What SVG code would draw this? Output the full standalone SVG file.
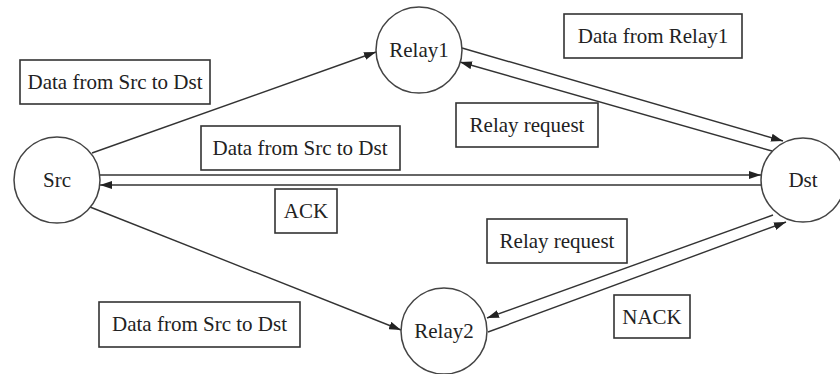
<svg xmlns="http://www.w3.org/2000/svg" width="840" height="374" viewBox="0 0 840 374">
  <style>
    .node circle { fill: #ffffff; stroke: #444444; stroke-width: 1.5; }
    .label rect { fill: #ffffff; stroke: #333333; stroke-width: 1.6; }
    text { font-family: 'Liberation Serif', 'Times New Roman', 'DejaVu Serif', serif; font-size: 21px; fill: #222222; text-anchor: middle; }
    .edge { stroke: #333333; stroke-width: 1.4; fill: none; marker-end: url(#arrow); }
  </style>
  <defs>
    <marker id="arrow" viewBox="0 0 12 8" refX="12" refY="4" markerWidth="12" markerHeight="8" markerUnits="userSpaceOnUse" orient="auto">
      <path d="M0,0 L12,4 L0,8 Z" fill="#222222"/>
    </marker>
  </defs>
  <rect width="840" height="374" fill="#ffffff"/>

  <!-- connectors -->
  <g id="connectors">
    <line class="edge" x1="92" y1="153" x2="376" y2="52"/>
    <line class="edge" x1="462" y1="48" x2="783" y2="141"/>
    <line class="edge" x1="772" y1="151" x2="460" y2="62"/>
    <line class="edge" x1="100" y1="175" x2="761" y2="175"/>
    <line class="edge" x1="762" y1="185" x2="100" y2="185"/>
    <line class="edge" x1="90" y1="207" x2="401" y2="330"/>
    <line class="edge" x1="773" y1="215" x2="487" y2="318"/>
    <line class="edge" x1="488" y1="332" x2="786" y2="222"/>
  </g>

  <!-- nodes -->
  <g id="src" class="node">
    <circle cx="57" cy="180" r="43"/>
    <text x="57" y="187">Src</text>
  </g>
  <g id="relay1" class="node">
    <circle cx="419" cy="50" r="43"/>
    <text x="419" y="57">Relay1</text>
  </g>
  <g id="dst" class="node">
    <circle cx="803" cy="180" r="42"/>
    <text x="803" y="187">Dst</text>
  </g>
  <g id="relay2" class="node">
    <circle cx="444" cy="331" r="43"/>
    <text x="444" y="338">Relay2</text>
  </g>

  <!-- edge labels -->
  <g id="label-src-relay1" class="label">
    <rect x="20" y="60" width="190" height="44"/>
    <text x="115" y="89">Data from Src to Dst</text>
  </g>
  <g id="label-relay1-data" class="label">
    <rect x="564" y="14" width="178" height="44"/>
    <text x="653" y="43">Data from Relay1</text>
  </g>
  <g id="label-relay-request-1" class="label">
    <rect x="456" y="103" width="142" height="44"/>
    <text x="527" y="132">Relay request</text>
  </g>
  <g id="label-src-dst" class="label">
    <rect x="201" y="126" width="199" height="44"/>
    <text x="300" y="155">Data from Src to Dst</text>
  </g>
  <g id="label-ack" class="label">
    <rect x="275" y="189" width="62" height="44"/>
    <text x="306" y="218">ACK</text>
  </g>
  <g id="label-relay-request-2" class="label">
    <rect x="487" y="219" width="140" height="44"/>
    <text x="557" y="248">Relay request</text>
  </g>
  <g id="label-src-relay2" class="label">
    <rect x="99" y="302" width="201" height="45"/>
    <text x="199.5" y="331">Data from Src to Dst</text>
  </g>
  <g id="label-nack" class="label">
    <rect x="614" y="295" width="76" height="43"/>
    <text x="652" y="324">NACK</text>
  </g>
</svg>
